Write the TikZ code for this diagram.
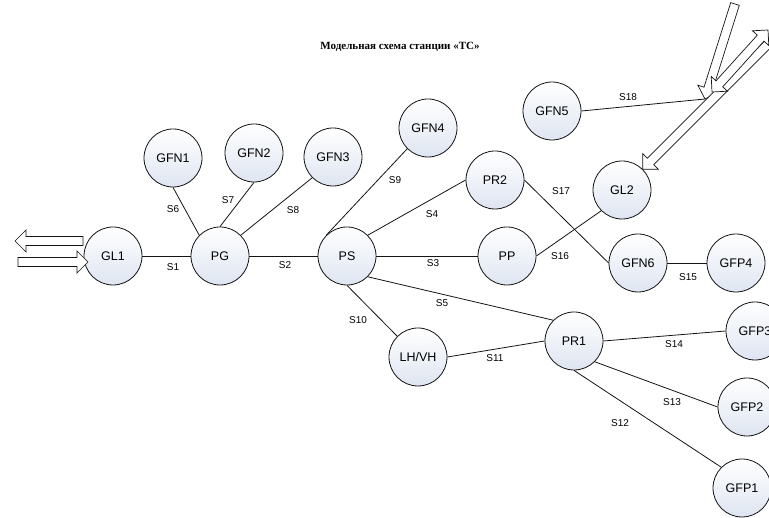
\documentclass[tikz,border=0pt]{standalone}
\usepackage{fontspec}
\setmainfont{Liberation Sans}
\newfontfamily\titlefont{Liberation Serif}
\usetikzlibrary{calc}

\definecolor{nodeshade}{RGB}{222,229,241}
\definecolor{inkline}{RGB}{20,20,20}

\tikzset{
  station/.style={circle, draw=inkline, line width=0.8pt, minimum size=58pt,
    inner sep=0pt, top color=white, bottom color=nodeshade,
    font=\fontsize{12.5}{14}\selectfont},
  link/.style={draw=inkline, line width=0.8pt},
  linklabel/.style={font=\fontsize{10}{12}\selectfont, inner sep=0pt},
  arrowbody/.style={draw=inkline, line width=0.7pt, fill=white, line join=miter},
}

% hollow block arrow: #1 = tip, #2 = tail
\newcommand\hollowarrow[2]{%
  \draw[arrowbody]
    (#1)
    -- ($($(#1)!11pt!(#2)$)!11pt!90:(#1)$)
    -- ($($(#1)!11pt!(#2)$)!4.5pt!90:(#1)$)
    -- ($(#2)!4.5pt!90:(#1)$)
    -- ($(#2)!4.5pt!-90:(#1)$)
    -- ($($(#1)!11pt!(#2)$)!4.5pt!-90:(#1)$)
    -- ($($(#1)!11pt!(#2)$)!11pt!-90:(#1)$)
    -- cycle;}

% hollow block arrow with heads at both ends
\newcommand\hollowdoublearrow[2]{%
  \draw[arrowbody]
    (#1)
    -- ($($(#1)!11pt!(#2)$)!11pt!90:(#2)$)
    -- ($($(#1)!11pt!(#2)$)!4.5pt!90:(#2)$)
    -- ($($(#2)!11pt!(#1)$)!4.5pt!-90:(#1)$)
    -- ($($(#2)!11pt!(#1)$)!11pt!-90:(#1)$)
    -- (#2)
    -- ($($(#2)!11pt!(#1)$)!11pt!90:(#1)$)
    -- ($($(#2)!11pt!(#1)$)!4.5pt!90:(#1)$)
    -- ($($(#1)!11pt!(#2)$)!4.5pt!-90:(#2)$)
    -- ($($(#1)!11pt!(#2)$)!11pt!-90:(#2)$)
    -- cycle;}

\begin{document}
\begin{tikzpicture}[x=1pt, y=-1pt]
\useasboundingbox (0,0) rectangle (769,518);
\clip (0,0) rectangle (769,518);

% title
\node[font=\titlefont\bfseries\fontsize{11}{13}\selectfont] (title) at (400,47)
  {Модельная схема станции «ТС»};

% stations
\node[station] (GL1)  at (113,256) {GL1};
\node[station] (PG)   at (220,256) {PG};
\node[station] (PS)   at (347,256) {PS};
\node[station] (PP)   at (507,256) {PP};
\node[station] (GFN1) at (173,158) {GFN1};
\node[station] (GFN2) at (254,153) {GFN2};
\node[station] (GFN3) at (333,157) {GFN3};
\node[station] (GFN4) at (428,128) {GFN4};
\node[station] (PR2)  at (495,180) {PR2};
\node[station] (GFN5) at (552,111) {GFN5};
\node[station] (GL2)  at (622,190) {GL2};
\node[station] (GFN6) at (638,263) {GFN6};
\node[station] (GFP4) at (736,263) {GFP4};
\node[station] (LHVH) at (418,357) {LH/VH};
\node[station] (PR1)  at (574,341) {PR1};
\node[station] (GFP3) at (755,331) {GFP3};
\node[station] (GFP2) at (747,407) {GFP2};
\node[station] (GFP1) at (742,488) {GFP1};

% connections
\draw[link] (GL1.east) -- (PG.west);
\draw[link] (PG.east) -- (PS.west);
\draw[link] (PS.east) -- (PP.west);
\draw[link] (PS.north east) -- (PR2.west);
\draw[link] (PS.south east) -- (PR1.north west);
\draw[link] (GFN1.south) -- (PG.north west);
\draw[link] (GFN2.south) -- (PG.north);
\draw[link] (GFN3.south west) -- (PG.north east);
\draw[link] (GFN4.south west) -- (PS.north west);
\draw[link] (PS.south) -- (LHVH.north west);
\draw[link] (LHVH.east) -- (PR1.west);
\draw[link] (PR1.south) -- (GFP1.north west);
\draw[link] (PR1.south east) -- (GFP2.west);
\draw[link] (PR1.east) -- (GFP3.west);
\draw[link] (GFN6.east) -- (GFP4.west);
\draw[link] (PP.east) -- (GL2.south west);
\draw[link] (PR2.east) -- (GFN6.west);

% incoming and outgoing flows
\coordinate (inA)   at (705,99);
\coordinate (inAt)  at (735,4);
\coordinate (outB1) at (712,92);
\coordinate (outB2) at (768,30);
\coordinate (inCt)  at (800,12);
\coordinate (outL)  at (15,241);
\coordinate (outLt) at (83,241);
\coordinate (inR)   at (88,262);
\coordinate (inRt)  at (18,262);

\draw[link] (GFN5.east) -- (inA);
\hollowarrow{inA}{inAt}
\hollowarrow{GL2.north east}{inCt}
\hollowdoublearrow{outB1}{outB2}
\hollowarrow{outL}{outLt}
\hollowarrow{inR}{inRt}

% connection labels
\node[linklabel] (s1)  at (173,267) {S1};
\node[linklabel] (s2)  at (285,265) {S2};
\node[linklabel] (s3)  at (433,263) {S3};
\node[linklabel] (s4)  at (432,214) {S4};
\node[linklabel] (s5)  at (442,303) {S5};
\node[linklabel] (s6)  at (173,209) {S6};
\node[linklabel] (s7)  at (228,200) {S7};
\node[linklabel] (s8)  at (293,210) {S8};
\node[linklabel] (s9)  at (395,180) {S9};
\node[linklabel] (s10) at (358,320) {S10};
\node[linklabel] (s11) at (495,358) {S11};
\node[linklabel] (s12) at (620,423) {S12};
\node[linklabel] (s13) at (672,402) {S13};
\node[linklabel] (s14) at (674,344) {S14};
\node[linklabel] (s15) at (688,277) {S15};
\node[linklabel] (s16) at (560,256) {S16};
\node[linklabel] (s17) at (561,191) {S17};
\node[linklabel] (s18) at (628,97)  {S18};
\end{tikzpicture}
\end{document}
